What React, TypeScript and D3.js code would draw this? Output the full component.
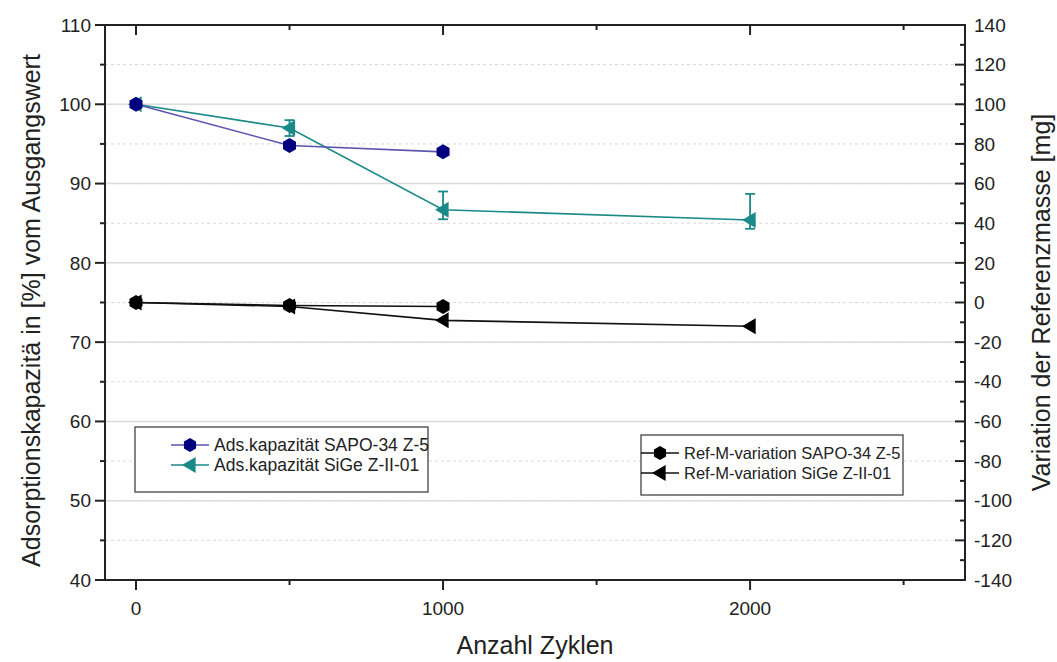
import React, { useRef, useEffect } from "react";
import * as d3 from "d3";

const cycles = [0, 500, 1000, 2000];
const adsSapo = [100, 94.8, 94.0];
const adsSige = [100, 97.0, 86.7, 85.4];
const adsSigeLow = [100, 96.0, 85.5, 84.3];
const adsSigeHigh = [100, 98.0, 89.0, 88.7];
const refSapo = [0, -1.5, -2];
const refSige = [0, -2, -9, -12];

const leftTicks = [40, 50, 60, 70, 80, 90, 100, 110];
const rightTicks = [-140, -120, -100, -80, -60, -40, -20, 0, 20, 40, 60, 80, 100, 120, 140];
const xTicks = [0, 1000, 2000];
const xMinor = [500, 1500, 2500];

const legendLeft = ["Ads.kapazität SAPO-34 Z-5", "Ads.kapazität SiGe Z-II-01"];
const legendRight = ["Ref-M-variation SAPO-34 Z-5", "Ref-M-variation SiGe Z-II-01"];

const NAVY = "#00007f";
const PURPLE = "#5b55b0";
const TEAL = "#1a8a88";
const FONT = "'Liberation Sans', Arial, sans-serif";

const App = () => {
  const ref = useRef<SVGSVGElement>(null);
  const width = 1057;
  const height = 662;

  useEffect(() => {
    const margin = { top: 25, right: 92, bottom: 82, left: 105 };
    const svg = d3.select(ref.current);
    svg.selectAll("*").remove();

    const x = d3.scaleLinear().domain([-101, 2700]).range([margin.left, width - margin.right]);
    const yL = d3.scaleLinear().domain([40, 110]).range([height - margin.bottom, margin.top]);
    const yR = d3.scaleLinear().domain([-140, 140]).range([height - margin.bottom, margin.top]);
    const x0 = margin.left, x1 = width - margin.right;
    const y0 = height - margin.bottom, y1 = margin.top;

    // grid
    svg.append("g").selectAll("line").data(rightTicks.slice(1, -1)).join("line")
      .attr("x1", x0).attr("x2", x1).attr("y1", (d) => yR(d)).attr("y2", (d) => yR(d))
      .attr("stroke", "#d8d8d8").attr("stroke-dasharray", "3,3");
    svg.append("g").selectAll("line").data(leftTicks.slice(1, -1)).join("line")
      .attr("x1", x0).attr("x2", x1).attr("y1", (d) => yL(d)).attr("y2", (d) => yL(d))
      .attr("stroke", "#dcdcdc").attr("stroke-width", 1.5);

    // frame
    svg.append("rect").attr("x", x0).attr("y", y1).attr("width", x1 - x0).attr("height", y0 - y1)
      .attr("fill", "none").attr("stroke", "#222").attr("stroke-width", 2);

    const ax = svg.append("g").attr("stroke", "#222").attr("stroke-width", 2);
    // left axis ticks
    leftTicks.forEach((v) => ax.append("line").attr("x1", x0 - 10).attr("x2", x0).attr("y1", yL(v)).attr("y2", yL(v)));
    d3.range(45, 110, 10).forEach((v) => ax.append("line").attr("x1", x0 - 5).attr("x2", x0).attr("y1", yL(v)).attr("y2", yL(v)));
    // right axis ticks (inward)
    rightTicks.forEach((v) => ax.append("line").attr("x1", x1 - 10).attr("x2", x1).attr("y1", yR(v)).attr("y2", yR(v)));
    d3.range(-130, 140, 20).forEach((v) => ax.append("line").attr("x1", x1 - 5).attr("x2", x1).attr("y1", yR(v)).attr("y2", yR(v)));
    // bottom ticks
    xTicks.forEach((v) => ax.append("line").attr("x1", x(v)).attr("x2", x(v)).attr("y1", y0).attr("y2", y0 + 10));
    xMinor.forEach((v) => ax.append("line").attr("x1", x(v)).attr("x2", x(v)).attr("y1", y0).attr("y2", y0 + 5));
    // top ticks (inward)
    xTicks.forEach((v) => ax.append("line").attr("x1", x(v)).attr("x2", x(v)).attr("y1", y1).attr("y2", y1 + 10));
    xMinor.forEach((v) => ax.append("line").attr("x1", x(v)).attr("x2", x(v)).attr("y1", y1).attr("y2", y1 + 5));

    const txt = svg.append("g").attr("font-family", FONT).attr("fill", "#222").attr("font-size", 19);
    leftTicks.forEach((v) => txt.append("text").attr("x", x0 - 14).attr("y", yL(v)).attr("dy", "0.35em")
      .attr("text-anchor", "end").text(v));
    rightTicks.forEach((v) => txt.append("text").attr("x", x1 + 9).attr("y", yR(v)).attr("dy", "0.35em")
      .attr("text-anchor", "start").text(v));
    xTicks.forEach((v) => txt.append("text").attr("x", x(v)).attr("y", y0 + 35)
      .attr("text-anchor", "middle").text(v));

    // axis titles
    const t = svg.append("g").attr("font-family", FONT).attr("fill", "#222").attr("font-size", 25);
    t.append("text").attr("x", (x0 + x1) / 2).attr("y", 654).attr("text-anchor", "middle").text("Anzahl Zyklen");
    t.append("text").attr("transform", `translate(40,${(y0 + y1) / 2 + 8}) rotate(-90)`)
      .attr("text-anchor", "middle").text("Adsorptionskapazitä in [%] vom Ausgangswert");
    t.append("text").attr("transform", `translate(1050,${(y0 + y1) / 2}) rotate(-90)`)
      .attr("text-anchor", "middle").text("Variation der Referenzmasse [mg]");

    const hex = (cx: number, cy: number, r: number) =>
      d3.line()(d3.range(6).map((k) => {
        const a = (Math.PI / 3) * k + Math.PI / 6;
        return [cx + r * Math.cos(a), cy + r * Math.sin(a)] as [number, number];
      })) + "Z";
    const tri = (cx: number, cy: number, s: number) =>
      `M${cx - s},${cy}L${cx + s * 0.7},${cy - s}L${cx + s * 0.7},${cy + s}Z`;

    const drawSeries = (xs: number[], ys: number[], yScale: any, lineColor: string, markColor: string, shape: string) => {
      const pts = ys.map((v, i) => [x(xs[i]), yScale(v)] as [number, number]);
      svg.append("path").attr("d", d3.line()(pts)).attr("fill", "none").attr("stroke", lineColor).attr("stroke-width", 1.6);
      pts.forEach(([cx, cy]) => {
        svg.append("path").attr("d", shape === "hex" ? hex(cx, cy, 7.5) : tri(cx, cy, 8)).attr("fill", markColor);
      });
    };

    // error bars
    const eb = svg.append("g").attr("stroke", TEAL).attr("stroke-width", 1.8);
    adsSige.forEach((v, i) => {
      if (adsSigeHigh[i] === adsSigeLow[i]) return;
      const cx = x(cycles[i]);
      eb.append("line").attr("x1", cx).attr("x2", cx).attr("y1", yL(adsSigeLow[i])).attr("y2", yL(adsSigeHigh[i]));
      [adsSigeLow[i], adsSigeHigh[i]].forEach((e) =>
        eb.append("line").attr("x1", cx - 5).attr("x2", cx + 5).attr("y1", yL(e)).attr("y2", yL(e)));
    });

    drawSeries(cycles, refSige, yR, "#111", "#000", "tri");
    drawSeries(cycles, refSapo, yR, "#111", "#000", "hex");
    drawSeries(cycles, adsSige, yL, TEAL, TEAL, "tri");
    drawSeries(cycles, adsSapo, yL, PURPLE, NAVY, "hex");

    // legends
    const legend = (lx: number, ly: number, w: number, h: number, lineX: number, labels: string[],
      lineColors: string[], markColors: string[], fs: number) => {
      const g = svg.append("g");
      g.append("rect").attr("x", lx).attr("y", ly).attr("width", w).attr("height", h)
        .attr("fill", "#fff").attr("stroke", "#444").attr("stroke-width", 1.3);
      labels.forEach((lab, i) => {
        const cy = ly + 18 + i * 20;
        g.append("line").attr("x1", lineX).attr("x2", lineX + 38).attr("y1", cy).attr("y2", cy)
          .attr("stroke", lineColors[i]).attr("stroke-width", 1.6);
        const cx = lineX + 19;
        g.append("path").attr("d", i === 0 ? hex(cx, cy, 7) : tri(cx, cy, 8)).attr("fill", markColors[i]);
        g.append("text").attr("x", lineX + 43).attr("y", cy).attr("dy", "0.35em")
          .attr("font-family", FONT).attr("font-size", fs).attr("fill", "#222").text(lab);
      });
    };
    legend(135, 427, 293, 65, 171, legendLeft, [PURPLE, TEAL], [NAVY, TEAL], 17.5);
    legend(641, 435, 262, 60, 641, legendRight, ["#111", "#111"], ["#000", "#000"], 16.5);
  }, []);

  return <svg ref={ref} width={width} height={height} style={{ position: "absolute", left: 0, top: 0 }} />;
};

export default App;
